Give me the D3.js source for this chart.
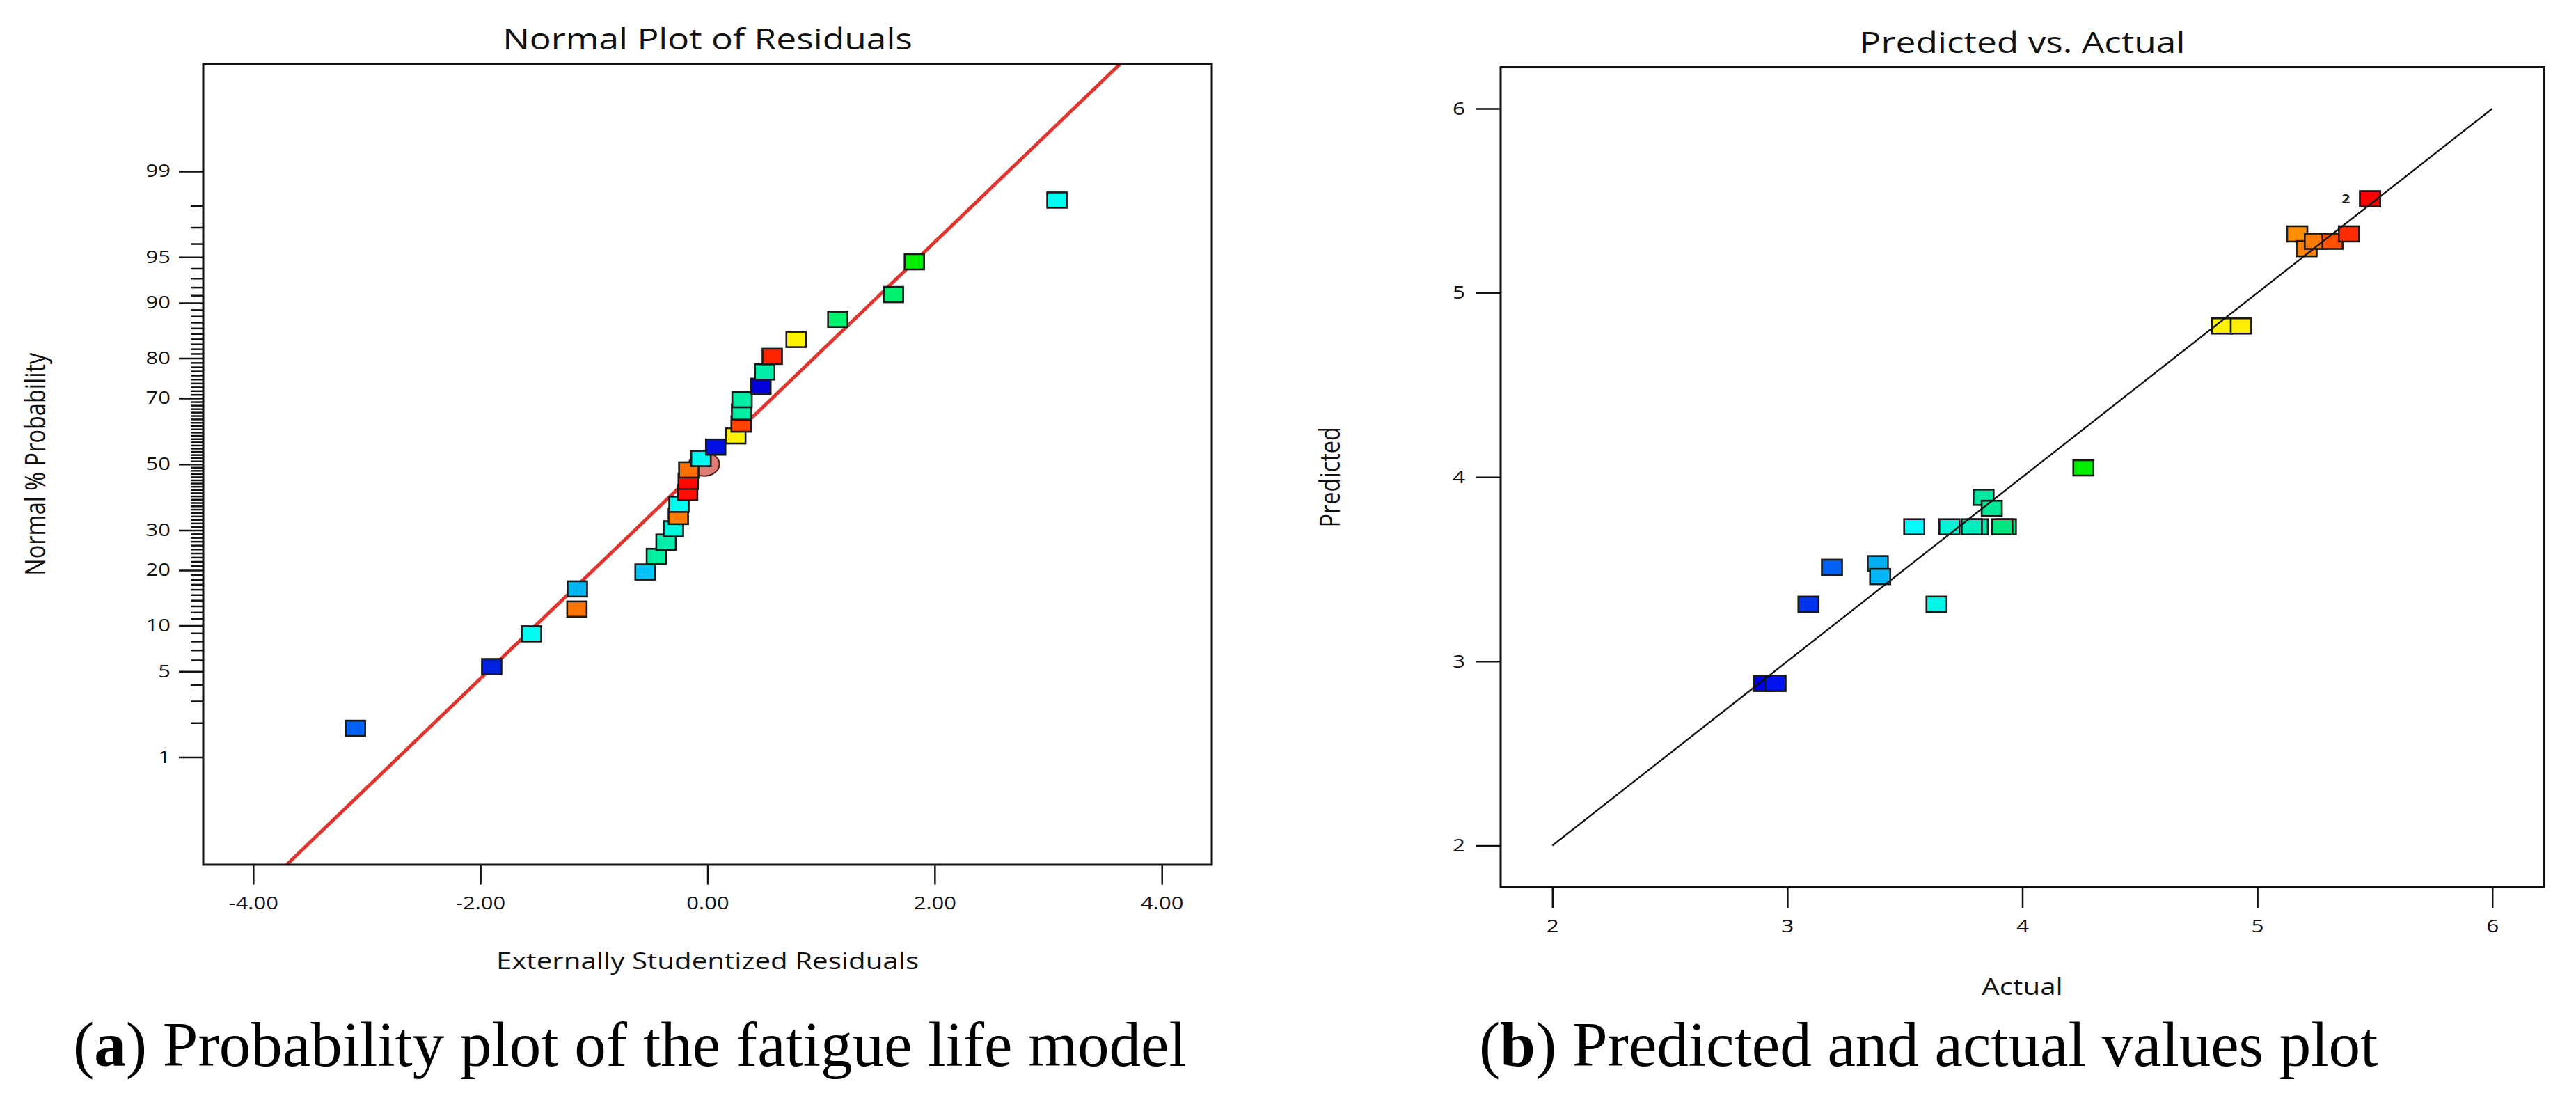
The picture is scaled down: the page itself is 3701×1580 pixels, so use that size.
<!DOCTYPE html>
<html lang="en">
<head>
<meta charset="utf-8">
<script src="https://d3js.org/d3.v7.min.js"></script>
<style>
body { margin: 0; background: #fff; }
</style>
</head>
<body>
<div id="canvas"></div>
<script>
// ---- (a) normal plot of residuals ----
var residuals = [-3.10, -1.90, -1.55, -1.15, -1.146, -0.55, -0.45, -0.365, -0.30, -0.257, -0.251, -0.175, -0.17, -0.165,
                 -0.057, 0.072, 0.249, 0.296, 0.300, 0.304, 0.47, 0.504, 0.57, 0.78, 1.147, 1.637, 1.821, 3.077];
var probabilities = [1.8, 5.4, 8.9, 12.5, 16.1, 19.6, 23.2, 26.8, 30.4, 33.9, 37.5, 41.1, 44.6, 48.2,
                     51.8, 55.4, 58.9, 62.5, 66.1, 69.6, 73.2, 76.8, 80.4, 83.9, 87.5, 91.1, 94.6, 98.2];
var residualColors = ["#0062f2", "#0022e0", "#00fbf0", "#ff7400", "#00b4f2", "#00c4f8", "#00eea0", "#00eeaa",
                      "#00f8dc", "#ff7c00", "#00fbf0", "#ff1000", "#ff0800", "#ff7000", "#00faf0", "#0010e2",
                      "#fff000", "#ff4400", "#00eea4", "#00eea4", "#0000de", "#00eeaa", "#ff2400", "#fff200",
                      "#00f070", "#00f070", "#00f000", "#00fbf0"];
var probTicks = [1, 5, 10, 20, 30, 50, 70, 80, 90, 95, 99];
var residTicks = [-4, -2, 0, 2, 4];
var residTickLabels = ["-4.00", "-2.00", "0.00", "2.00", "4.00"];
var fitLineResid = [-2.72, 2.65];
var fitLineProb = [1, 99];
var highlightPoint = [-0.03, 50];

// ---- (b) predicted vs actual ----
var actual = [2.90, 2.95, 3.09, 3.19, 3.385, 3.395, 3.54, 3.635, 3.69, 3.81, 3.785, 3.93, 3.915,
              3.835, 3.87, 4.26, 4.85, 4.93, 5.17, 5.21, 5.245, 5.32, 5.39, 5.48, 5.48];
var predicted = [2.88, 2.88, 3.31, 3.51, 3.53, 3.46, 3.73, 3.31, 3.73, 3.73, 3.73, 3.73, 3.73,
                 3.89, 3.83, 4.05, 4.82, 4.82, 5.32, 5.24, 5.28, 5.28, 5.32, 5.51, 5.51];
var actualColors = ["#0000e6", "#0012ee", "#0034f0", "#0062f2", "#00aef2", "#00b6f6", "#00fcff", "#00f6e6",
                    "#00f4d6", "#00eab0", "#00eebe", "#00e676", "#00e67e", "#00e8a0", "#00ea96", "#00ee00",
                    "#fff200", "#ffee00", "#ff8e00", "#ff8200", "#ff7800", "#ff5200", "#ff2c00", "#ff0000", "#ff0000"];
var valueTicks = [2, 3, 4, 5, 6];
var diagonal = [2, 6];

var SX = 1.24;           // the source figure is stretched sideways
var FONT = "'Open Sans', 'Noto Sans', sans-serif";

// inverse normal cdf (Acklam)
function probit(p) {
	var a = [-3.969683028665376e+01, 2.209460984245205e+02, -2.759285104469687e+02, 1.383577518672690e+02, -3.066479806614716e+01, 2.506628277459239e+00];
	var b = [-5.447609879822406e+01, 1.615858368580409e+02, -1.556989798598866e+02, 6.680131188771972e+01, -1.328068155288572e+01];
	var c = [-7.784894002430293e-03, -3.223964580411365e-01, -2.400758277161838e+00, -2.549671010229528e+00, 4.374664141464968e+00, 2.938163982698783e+00];
	var d = [7.784695709041462e-03, 3.224671290700398e-01, 2.445134137142996e+00, 3.754408661907416e+00];
	var q, r;
	if (p < 0.02425) {
		q = Math.sqrt(-2 * Math.log(p));
		return (((((c[0]*q+c[1])*q+c[2])*q+c[3])*q+c[4])*q+c[5]) / ((((d[0]*q+d[1])*q+d[2])*q+d[3])*q+1);
	}
	if (p > 1 - 0.02425) {
		q = Math.sqrt(-2 * Math.log(1 - p));
		return -(((((c[0]*q+c[1])*q+c[2])*q+c[3])*q+c[4])*q+c[5]) / ((((d[0]*q+d[1])*q+d[2])*q+d[3])*q+1);
	}
	q = p - 0.5; r = q * q;
	return (((((a[0]*r+a[1])*r+a[2])*r+a[3])*r+a[4])*r+a[5])*q / (((((b[0]*r+b[1])*r+b[2])*r+b[3])*r+b[4])*r+1);
}

var svg = d3.select("#canvas").append("svg")
	.attr("width", 3701)
	.attr("height", 1580)
	.style("background-color", "#fff")
	.style("display", "block");

function stretchedText(g, x, y, str, size, anchor, rotate) {
	return g.append("text")
		.attr("transform", "translate(" + x + "," + y + ") scale(" + SX + ",1)" + (rotate ? " rotate(-90)" : ""))
		.attr("text-anchor", anchor)
		.style("font-family", FONT)
		.style("font-size", size + "px")
		.attr("fill", "#111")
		.text(str);
}

function styleAxis(g, labelSize) {
	g.select(".domain").remove();
	g.selectAll("line").attr("stroke", "#111").attr("stroke-width", 2.5);
	g.selectAll("text")
		.style("font-family", FONT)
		.style("font-size", labelSize + "px")
		.attr("fill", "#111")
		.each(function() {
			var t = d3.select(this);
			t.attr("x", (+t.attr("x") || 0) / SX).attr("transform", "scale(" + SX + ",1)");
		});
}

function markers(g, data, xs, ys, w, h) {
	g.selectAll("rect.pt")
		.data(data)
		.enter().append("rect")
		.attr("class", "pt")
		.attr("x", function(d) { return xs(d.x) - w / 2; })
		.attr("y", function(d) { return ys(d.y) - h / 2; })
		.attr("width", w)
		.attr("height", h)
		.attr("fill", function(d) { return d.c; })
		.attr("stroke", "#1a1a1a")
		.attr("stroke-width", 2.6);
}

// ================= panel (a) =================
var A = {left: 292, right: 1741, top: 91.5, bottom: 1242};
var xa = d3.scaleLinear().domain([-4.44, 4.44]).range([A.left, A.right]);
var za = d3.scaleLinear().domain([-3.18, 3.18]).range([A.bottom, A.top]);
var pa = function(p) { return za(probit(p / 100)); };

var ga = svg.append("g");
ga.append("defs").append("clipPath").attr("id", "clipA")
	.append("rect").attr("x", A.left).attr("y", A.top)
	.attr("width", A.right - A.left).attr("height", A.bottom - A.top);

var minorP = d3.range(1, 100).filter(function(p) { return probTicks.indexOf(p) < 0; });
ga.append("g").attr("transform", "translate(" + A.left + ",0)")
	.call(d3.axisLeft(za).tickValues(minorP.map(function(p) { return probit(p / 100); }))
		.tickSize(18).tickFormat(""))
	.call(styleAxis, 25);
ga.append("g").attr("transform", "translate(" + A.left + ",0)")
	.call(d3.axisLeft(za).tickValues(probTicks.map(function(p) { return probit(p / 100); }))
		.tickSize(35).tickPadding(12).tickFormat(function(d, i) { return probTicks[i]; }))
	.call(styleAxis, 25);
var axA = ga.append("g").attr("transform", "translate(0," + A.bottom + ")")
	.call(d3.axisBottom(xa).tickValues(residTicks).tickSize(28.5)
		.tickFormat(function(d, i) { return residTickLabels[i]; }))
	.call(styleAxis, 25);
axA.selectAll("text").attr("y", 64).attr("dy", null);

// fitted red line, drawn across the frame
var slopeA = (fitLineResid[1] - fitLineResid[0]) / (probit(fitLineProb[1] / 100) - probit(fitLineProb[0] / 100));
var interA = fitLineResid[0] - slopeA * probit(fitLineProb[0] / 100);
ga.append("line")
	.attr("clip-path", "url(#clipA)")
	.attr("x1", xa(interA + slopeA * za.domain()[0])).attr("y1", za(za.domain()[0]))
	.attr("x2", xa(interA + slopeA * za.domain()[1])).attr("y2", za(za.domain()[1]))
	.attr("stroke", "#e0352f").attr("stroke-width", 5);

ga.append("ellipse")
	.attr("cx", xa(highlightPoint[0])).attr("cy", pa(highlightPoint[1]))
	.attr("rx", 22).attr("ry", 17)
	.attr("fill", "#e07c78").attr("stroke", "#4a1a1a").attr("stroke-width", 2);

markers(ga, residuals.map(function(r, i) { return {x: r, y: probabilities[i], c: residualColors[i]}; }),
	xa, pa, 28, 22);

ga.append("rect")
	.attr("x", A.left).attr("y", A.top)
	.attr("width", A.right - A.left).attr("height", A.bottom - A.top)
	.attr("fill", "none").attr("stroke", "#111").attr("stroke-width", 3);

stretchedText(ga, (A.left + A.right) / 2, 71, "Normal Plot of Residuals", 41.5, "middle");
stretchedText(ga, (A.left + A.right) / 2, 1392, "Externally Studentized Residuals", 32.5, "middle");
stretchedText(ga, 65, (A.top + A.bottom) / 2, "Normal % Probability", 32.5, "middle", true);

// ================= panel (b) =================
var B = {left: 2156, right: 3655, top: 96.5, bottom: 1274};
var xb = d3.scaleLinear().domain([1.78, 6.22]).range([B.left, B.right]);
var yb = d3.scaleLinear().domain([1.775, 6.225]).range([B.bottom, B.top]);

var gb = svg.append("g");
gb.append("g").attr("transform", "translate(" + B.left + ",0)")
	.call(d3.axisLeft(yb).tickValues(valueTicks).tickSize(36).tickPadding(15).tickFormat(d3.format("d")))
	.call(styleAxis, 25.5);
var axB = gb.append("g").attr("transform", "translate(0," + B.bottom + ")")
	.call(d3.axisBottom(xb).tickValues(valueTicks).tickSize(30).tickFormat(d3.format("d")))
	.call(styleAxis, 25.5);
axB.selectAll("text").attr("y", 65.5).attr("dy", null);

var pts = actual.map(function(a, i) { return {x: a, y: predicted[i], c: actualColors[i]}; });
markers(gb, pts, xb, yb, 29, 22);

// two runs share the top point
var last = pts[pts.length - 1];
gb.append("text")
	.attr("transform", "translate(" + (xb(last.x) - 29) + "," + (yb(last.y) + 6) + ") scale(" + SX + ",1)")
	.attr("text-anchor", "end")
	.style("font-family", FONT).style("font-size", "17px").style("font-weight", "bold")
	.attr("fill", "#222")
	.text("2");

gb.append("line")
	.attr("x1", xb(diagonal[0])).attr("y1", yb(diagonal[0]))
	.attr("x2", xb(diagonal[1])).attr("y2", yb(diagonal[1]))
	.attr("stroke", "#111").attr("stroke-width", 2.4);

gb.append("rect")
	.attr("x", B.left).attr("y", B.top)
	.attr("width", B.right - B.left).attr("height", B.bottom - B.top)
	.attr("fill", "none").attr("stroke", "#111").attr("stroke-width", 3);

stretchedText(gb, (B.left + B.right) / 2, 76, "Predicted vs. Actual", 41.5, "middle");
stretchedText(gb, (B.left + B.right) / 2, 1429, "Actual", 32.5, "middle");
stretchedText(gb, 1925, (B.top + B.bottom) / 2, "Predicted", 32.5, "middle", true);

// ================= captions =================
function caption(x, letter, rest) {
	var t = svg.append("text")
		.attr("x", x).attr("y", 1531)
		.style("font-family", "'Liberation Serif', 'Times New Roman', serif")
		.style("font-size", "91px")
		.attr("fill", "#000");
	t.append("tspan").text("(");
	t.append("tspan").style("font-weight", "bold").text(letter);
	t.append("tspan").text(") " + rest);
}
caption(105, "a", "Probability plot of the fatigue life model");
caption(2125, "b", "Predicted and actual values plot");
</script>
</body>
</html>
